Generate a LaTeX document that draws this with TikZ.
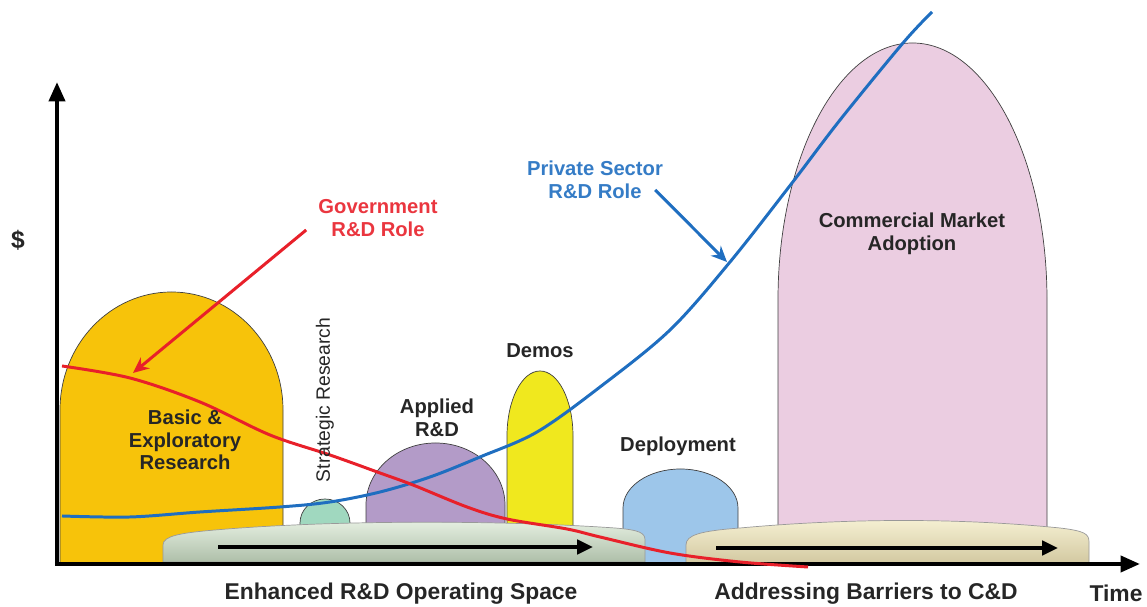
\documentclass[tikz,border=0pt]{standalone}
\usepackage{fontspec}
\setmainfont{Liberation Sans}
\usetikzlibrary{arrows.meta}
\definecolor{cgold}{HTML}{F7C30A}
\definecolor{cteal}{HTML}{A0D8BF}
\definecolor{cviolet}{HTML}{B39BC8}
\definecolor{clemon}{HTML}{F0E81E}
\definecolor{csky}{HTML}{9DC6EA}
\definecolor{cpink}{HTML}{EBCDE1}
\definecolor{cred}{HTML}{E8202A}
\definecolor{cblue}{HTML}{1F6EC0}
\definecolor{cgreentop}{HTML}{E6F0E2}
\definecolor{cgreenbot}{HTML}{AEBFA9}
\definecolor{ctantop}{HTML}{F6F1D4}
\definecolor{ctanbot}{HTML}{D2C8A0}
\tikzset{
  every picture/.style={font=\bfseries, line width=0.5pt},
  dome/.style={draw=black!75, fill=#1, line width=0.4pt},
  slab/.style={draw=black!40, line width=0.4pt},
  axis/.style={-{Triangle[length=11pt,width=9pt]}, line width=2.4pt},
  flow/.style={-{Triangle[length=9pt,width=8pt]}, line width=2.4pt},
  role/.style={-{Stealth[length=9pt,width=8pt]}, draw=#1, line width=1.7pt},
  curve/.style={draw=#1, line width=1.7pt, smooth, tension=0.55},
  lbl/.style={font=\fontsize{11.5}{12.8}\selectfont\bfseries, align=center, text=black!85},
  caption/.style={font=\fontsize{13}{15}\selectfont\bfseries, text=black!85},
}

\begin{document}
\begin{tikzpicture}[x=0.02cm, y=0.02cm]
  \useasboundingbox (0,0) rectangle (1147,607);
  % stage domes
  \foreach \c/\xl/\xr/\yb/\ys/\ry in {cpink/778/1047/43/307/257, csky/623/738/43/99/39,
      cgold/60/283/43/197/118, cteal/300/350/70/84/24, cviolet/366/505/70/102/62, clemon/507/573/70/171/65}
    \draw[dome=\c] (\xl,\yb) -- (\xl,\ys) arc[start angle=180, end angle=0, x radius={(\xr-\xl)/2}, y radius=\ry] -- (\xr,\yb) -- cycle;
  % operating space platforms
  \path[slab, top color=cgreentop, bottom color=cgreenbot] (163,45) -- (163,62) .. controls (163,71) and (180,74) .. (215,77)
    .. controls (330,87) and (500,87) .. (615,79) .. controls (640,77) and (645,74) .. (645,67) -- (645,45) -- cycle;
  \path[slab, top color=ctantop, bottom color=ctanbot] (686,43) -- (686,62) .. controls (686,72) and (700,76) .. (740,79)
    .. controls (850,89) and (960,89) .. (1060,79) .. controls (1085,76) and (1089,73) .. (1089,65) -- (1089,43) -- cycle;
  \coordinate (enhfrom) at (218,60);
  \coordinate (enhto) at (593,60);
  \coordinate (addrfrom) at (716,59);
  \coordinate (addrto) at (1058,59);
  \draw[flow] (enhfrom) -- (enhto);
  \draw[flow] (addrfrom) -- (addrto);
  % axes
  \coordinate (origin) at (57,43);
  \coordinate (ytop) at (57,525);
  \coordinate (xend) at (1140,43);
  \draw[axis] (origin) -- (ytop);
  \draw[axis] ([xshift=-1.2pt]origin) -- (xend);
  % roles
  \draw[curve=cblue] plot coordinates {(62,91) (130,90) (200,95) (280,100) (330,105) (380,115) (430,130) (480,150)
    (537,175) (600,220) (670,277) (730,345) (792,424) (840,487) (903,564) (932,595)};
  \draw[curve=cred] plot coordinates {(62,241) (130,229) (200,205) (270,172) (330,152) (380,134) (413,122) (467,100)
    (507,88) (567,78) (600,70) (670,54) (740,45) (808,40)};
  \node[lbl, text=cred!90] (govlbl) at (378,389) {Government\\R\&D Role};
  \node[lbl, text=cblue!90] (privlbl) at (595,427) {Private Sector\\R\&D Role};
  \coordinate (govtip) at (133,234);
  \coordinate (privtip) at (727,345);
  \draw[role=cred] ([shift={(-6,-12)}]govlbl.west) -- (govtip);
  \draw[role=cblue] ([shift={(-14,-10)}]privlbl.east) -- (privtip);
  % labels
  \node[font=\fontsize{14}{16}\selectfont\bfseries, text=black!85] (dollar) at (18,367) {\$};
  \node[lbl] (basiclbl) at (185,167) {Basic \&\\Exploratory\\Research};
  \node[lbl, font=\fontsize{11}{13}\selectfont\mdseries, rotate=90] (stratlbl) at (325,207) {Strategic Research};
  \node[lbl] (appliedlbl) at (437,189) {Applied\\R\&D};
  \node[lbl] (demoslbl) at (540,256) {Demos};
  \node[lbl] (deploylbl) at (678,161) {Deployment};
  \node[lbl] (commlbl) at (912,373) {Commercial Market\\Adoption};
  \node[caption] (enhlbl) at (401,13) {Enhanced R\&D Operating Space};
  \node[caption] (addrlbl) at (866,13) {Addressing Barriers to C\&D};
  \node[caption] (timelbl) at (1116,14) {Time};
\end{tikzpicture}
\end{document}
